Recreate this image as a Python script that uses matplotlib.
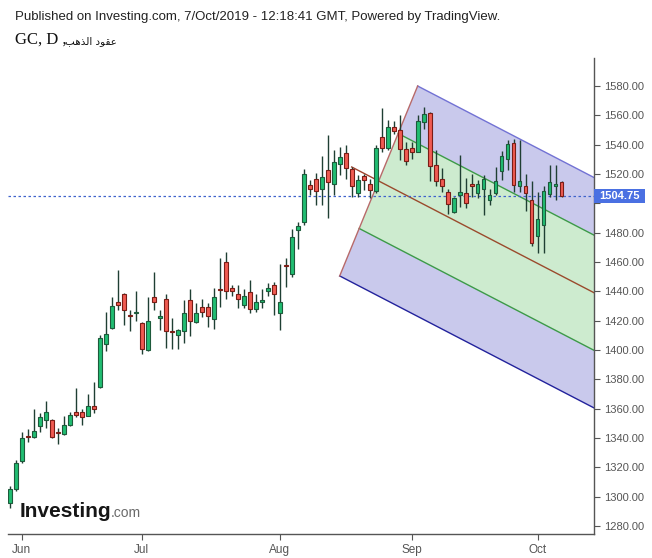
import numpy as np
import pandas as pd
import matplotlib
matplotlib.use('Agg')
import matplotlib.pyplot as plt
from matplotlib.patches import Rectangle, Polygon

# Gold futures (GC), daily bars 30 May 2019 -> 7 Oct 2019
dates = pd.bdate_range('2019-05-30', '2019-10-07')

opens = [1296, 1305, 1324, 1341.5, 1341, 1348, 1352, 1352, 1344, 1342.5,
         1349, 1358, 1357.5, 1355, 1361.5, 1375, 1404, 1415, 1433, 1438.5,
         1424, 1425, 1418.5, 1400, 1436, 1421.5, 1434.5, 1413, 1410, 1413,
         1434, 1419, 1429, 1429.5, 1421, 1441.5, 1460, 1442, 1438.5, 1431,
         1439.5, 1428, 1432.5, 1440, 1444, 1425.5, 1458, 1451.5, 1481.5, 1487,
         1512.5, 1516.5, 1509.5, 1522.5, 1513, 1526.5, 1534, 1523.5, 1507, 1518.5,
         1513, 1508.5, 1545.5, 1537.5, 1552, 1550, 1537, 1538, 1535, 1555.5,
         1561.5, 1526, 1516.5, 1507.5, 1494, 1505.5, 1507, 1513.5, 1507, 1510,
         1502.5, 1507, 1522, 1530, 1541, 1511.5, 1512, 1502.5, 1478, 1485.5,
         1506.5, 1511.5, 1514.5]
highs = [1307, 1325, 1344, 1346, 1360, 1357, 1365, 1353, 1347, 1355,
         1358, 1374, 1360, 1370, 1378, 1410, 1426, 1436, 1454.5, 1439,
         1427, 1440, 1419, 1436, 1453, 1427, 1438, 1421.5, 1414.5, 1434,
         1441.5, 1432, 1435, 1432, 1442, 1462.5, 1467, 1444, 1444, 1441.5,
         1448, 1438, 1441.5, 1446, 1446.5, 1458.5, 1462.5, 1482.5, 1487.5, 1523.5,
         1516, 1521, 1532, 1546.5, 1536.5, 1538.5, 1540, 1525, 1519, 1520,
         1516.5, 1540, 1565, 1557, 1556, 1560, 1542, 1542, 1560, 1566,
         1562, 1536.5, 1524, 1509.5, 1504, 1533, 1517.5, 1520, 1516, 1519.5,
         1510, 1525, 1535.5, 1543.5, 1544, 1543, 1520, 1515, 1508, 1512,
         1526, 1526, 1515.5]
lows = [1292, 1304, 1323, 1337, 1340, 1344, 1347, 1340, 1336, 1342,
        1348, 1354, 1349, 1355, 1357, 1374, 1399, 1414, 1427, 1417,
        1413, 1420, 1397.5, 1399.5, 1427.5, 1413.5, 1401.5, 1400.5, 1401, 1405,
        1409.5, 1418.5, 1422.5, 1416, 1414, 1429, 1435, 1436.5, 1428.5, 1428.5,
        1425, 1426, 1428.5, 1436.5, 1424, 1413.5, 1443, 1449.5, 1469, 1485,
        1505.5, 1499, 1499, 1490, 1505.5, 1519, 1516.5, 1504.5, 1504, 1509,
        1503.5, 1507, 1535, 1536.5, 1547.5, 1529.5, 1526, 1530.5, 1535, 1551,
        1515, 1512, 1508, 1493, 1493.5, 1497.5, 1496.5, 1504.5, 1503.5, 1492,
        1499, 1505.5, 1516, 1522.5, 1508, 1508, 1494.5, 1471, 1466, 1466,
        1504.5, 1502.5, 1504]
closes = [1305, 1323, 1340, 1340.5, 1345, 1354, 1357.5, 1341, 1343.5, 1349,
          1356, 1356, 1354.5, 1362, 1360, 1408.5, 1411, 1430, 1430.5, 1427,
          1423.5, 1426, 1401, 1420, 1433, 1423.5, 1413, 1412.5, 1413.5, 1425,
          1419.5, 1425, 1426, 1423.5, 1436, 1441, 1440, 1440, 1434.5, 1436.5,
          1428, 1432.5, 1434, 1442, 1438, 1432.5, 1457.5, 1477, 1484.5, 1520,
          1509.5, 1508.5, 1518, 1514.5, 1528, 1531.5, 1524, 1512, 1516, 1516,
          1509, 1537.5, 1537.5, 1552, 1549, 1537, 1529, 1535, 1556, 1561,
          1525.5, 1515.5, 1511.5, 1499.5, 1503.5, 1507.5, 1500, 1511.5, 1513.5, 1516.5,
          1506, 1515.5, 1532.5, 1540.5, 1512.5, 1515.5, 1507, 1473, 1489.5, 1508.5,
          1514.5, 1513, 1504.75]

last_price = 1504.75

# Andrews pitchfork anchor points (bar index, price)
fork_a = (57, 1524.8)
fork_b = (68, 1580.0)
fork_c = (55, 1450.5)
fork_levels = [1.0, 0.5, 0.0, -0.5, -1.0]

price_ticks = list(range(1280, 1600, 20))
month_labels = ['Jun', 'Jul', 'Aug', 'Sep', 'Oct']

# colours
UP_FILL, UP_EDGE = '#21bd72', '#1d5a3b'
DN_FILL, DN_EDGE = '#f05b52', '#7a1d16'
WICK = '#1f3f33'

W, H = 652, 558
fig = plt.figure(figsize=(W / 100, H / 100), dpi=100)
ax = fig.add_axes([8 / W, 24 / H, 586 / W, (534 - 58) / H])

x = np.arange(len(opens))
o = np.array(opens); h = np.array(highs); l = np.array(lows); c = np.array(closes)
up = c >= o

# pitchfork
ax_x0, ax_x1 = -0.3, 97.4
mx = (fork_b[0] + fork_c[0]) / 2
my = (fork_b[1] + fork_c[1]) / 2
slope = (my - fork_a[1]) / (mx - fork_a[0])

def base_pt(t):
    return (mx + t * (fork_b[0] - mx), my + t * (fork_b[1] - my))

def end_pt(t):
    px, py = base_pt(t)
    return (ax_x1 + 2, py + slope * (ax_x1 + 2 - px))

fills = ['#c9c9ec', '#cdebcf', '#cdebcf', '#c9c9ec']
for i in range(4):
    t0, t1 = fork_levels[i], fork_levels[i + 1]
    poly = Polygon([base_pt(t0), end_pt(t0), end_pt(t1), base_pt(t1)],
                   closed=True, fc=fills[i], ec='none', zorder=1)
    ax.add_patch(poly)

line_cols = ['#7272d4', '#3c9a48', '#9a4a2c', '#3c9a48', '#22229c']
for t, col in zip(fork_levels, line_cols):
    p0, p1 = base_pt(t), end_pt(t)
    ax.plot([p0[0], p1[0]], [p0[1], p1[1]], color=col, lw=1.0, zorder=1.2)
# handle and base line
ax.plot([fork_a[0], mx], [fork_a[1], my], color='#a0442e', lw=1.0, zorder=1.2)
ax.plot([fork_c[0], fork_b[0]], [fork_c[1], fork_b[1]], color='#b86a6a', lw=1.0, zorder=1.2)

# last price dotted line
ax.axhline(last_price, color='#3f62cc', lw=0.9, ls=(0, (2, 2)), zorder=1.5)

# candles
ax.vlines(x, l, h, color=WICK, lw=1.0, zorder=2)
body_lo = np.minimum(o, c)
body_h = np.maximum(np.abs(c - o), 0.4)
ax.bar(x[up], body_h[up], bottom=body_lo[up], width=0.62,
       color=UP_FILL, edgecolor=UP_EDGE, linewidth=0.8, zorder=3)
ax.bar(x[~up], body_h[~up], bottom=body_lo[~up], width=0.62,
       color=DN_FILL, edgecolor=DN_EDGE, linewidth=0.8, zorder=3)

# axes styling
ax.set_xlim(ax_x0, ax_x1)
ax.set_ylim(1274.55, 1599.1)
for s in ['left', 'top']:
    ax.spines[s].set_visible(False)
for s in ['right', 'bottom']:
    ax.spines[s].set_color('#555555')
    ax.spines[s].set_linewidth(1.0)
ax.yaxis.tick_right()
ax.set_yticks(price_ticks)
# the 1500 label sits under the last-price tag
ax.set_yticklabels(['' if v == 1500 else f'{v:.2f}' for v in price_ticks])
month_idx = [list(dates).index(d) for d in
             [pd.Timestamp('2019-06-03'), pd.Timestamp('2019-07-01'),
              pd.Timestamp('2019-08-01'), pd.Timestamp('2019-09-02'),
              pd.Timestamp('2019-10-01')]]
ax.set_xticks(month_idx)
ax.set_xticklabels(month_labels)
ax.tick_params(axis='y', length=4, width=0.8, color='#555555', labelcolor='#555555',
               labelsize=8, pad=3, labelfontfamily='Liberation Sans')
ax.tick_params(axis='x', length=4, width=0.8, color='#555555', labelcolor='#555555',
               labelsize=8.5, pad=3, labelfontfamily='Liberation Sans')

# price tag
tag_w = 51 / 586
tag_h = 7 / 1.4667
ax.add_patch(Rectangle((1.0, last_price - tag_h), tag_w, 2 * tag_h,
                       transform=ax.get_yaxis_transform(), fc='#4a70e2', ec='none',
                       clip_on=False, zorder=5))
ax.text(1.0 + tag_w / 2, last_price, f'{last_price:.2f}', transform=ax.get_yaxis_transform(),
        ha='center', va='center', color='white', fontsize=8, fontweight='bold',
        family='Liberation Sans', zorder=6, clip_on=False)

# header
fig.text(15 / W, 1 - 17 / H, 'Published on Investing.com, 7/Oct/2019 - 12:18:41 GMT, Powered by TradingView.',
         ha='left', va='center', fontsize=9.5, color='#222222', family='Liberation Sans')
fig.text(15 / W, 1 - 40 / H, 'GC, D ,', ha='left', va='center',
         fontsize=12, color='#111111', family='Liberation Serif')
# Arabic name written in visual order with presentation forms (no shaping in matplotlib)
title_ar = '\uFE90\uFEEB\uFEAC\uFEDF\uFE8D \uFEA9\uFEEE\uFED8\uFECB'
fig.text(65 / W, 1 - 41 / H, title_ar, ha='left', va='center',
         fontsize=7.5, color='#111111', family='DejaVu Sans')

# watermark logo
fig.text(20 / W, 1 - 517 / H, 'Investing', ha='left', va='baseline', fontsize=15,
         fontweight='bold', color='#161616', family='Liberation Sans')
fig.text(111 / W, 1 - 517 / H, '.com', ha='left', va='baseline', fontsize=10,
         color='#6a6a6a', family='Liberation Sans')

fig.savefig('out.png', dpi=100)
